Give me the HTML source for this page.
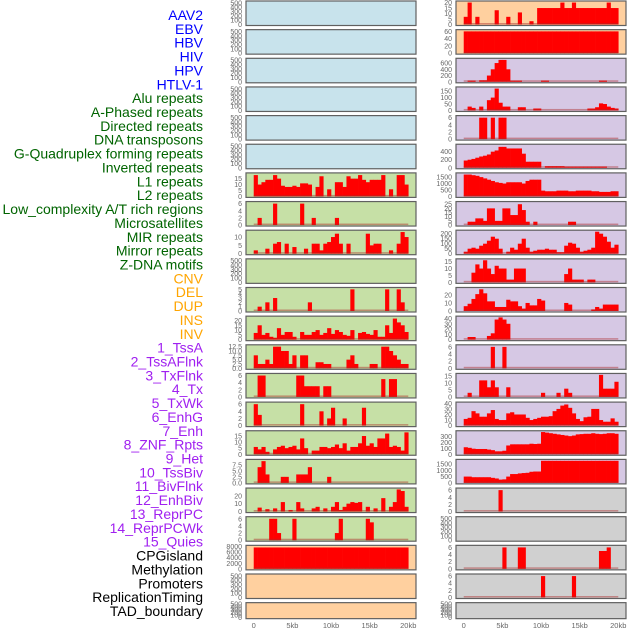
<!DOCTYPE html>
<html><head><meta charset="utf-8">
<style>
body{margin:0;background:#fff;}
svg{display:block;font-family:"Liberation Sans",sans-serif;}
</style></head>
<body>
<svg id="chart" width="630" height="630" viewBox="0 0 630 630" xmlns="http://www.w3.org/2000/svg"></svg>
<script>
const labels=["AAV2","EBV","HBV","HIV","HPV","HTLV-1","Alu repeats","A-Phased repeats","Directed repeats","DNA transposons","G-Quadruplex forming repeats","Inverted repeats","L1 repeats","L2 repeats","Low_complexity A/T rich regions","Microsatellites","MIR repeats","Mirror repeats","Z-DNA motifs","CNV","DEL","DUP","INS","INV","1_TssA","2_TssAFlnk","3_TxFlnk","4_Tx","5_TxWk","6_EnhG","7_Enh","8_ZNF_Rpts","9_Het","10_TssBiv","11_BivFlnk","12_EnhBiv","13_ReprPC","14_ReprPCWk","15_Quies","CPGisland","Methylation","Promoters","ReplicationTiming","TAD_boundary"];
const labelGroups=[0,0,0,0,0,0,1,1,1,1,1,1,1,1,1,1,1,1,1,2,2,2,2,2,3,3,3,3,3,3,3,3,3,3,3,3,3,3,3,4,4,4,4,4];
const xTickLabels=["0","5kb","10kb","15kb","20kb"];
const xTickValues=[0,5,10,15,20];
function sparse(n,obj){const a=new Array(n).fill(0);for(const k in obj)a[+k]=obj[k];return a;}
// left column series (40 bins of 0.5kb)
const L1rep=[18,10,12,14,14,18,15,9,8,8,9,8,11,11,10,0,8,17,0,6,0,12,12,8,17,15,15,18,14,12,14,14,14,18,0,6,0,18,18,10];
const L2rep=sparse(40,{1:2,5:6,12:6,15:2,21:2});
const lowComp=[2,0,0,3,0,6,7,0,6,0,4,0,0,3,0,6,6,2,6,7,10,12,6,0,6,0,0,0,0,12,5,6,6,0,0,2,0,6,13,10];
const mirL=sparse(40,{1:1,3:2,5:3,14:2,25:5,34:5,37:5,38:2});
const mirrorL=[7,15,5,7,3,2,12,5,8,8,3,0,8,5,5,8,10,5,7,12,6,10,8,5,4,10,0,7,8,6,5,10,3,3,15,7,22,18,15,8];
const zdnaL=[7.5,2.5,2.5,5,2.5,12.5,12.5,10,10,2.5,7.5,0,7.5,7.5,0,0,3.5,3.5,2.5,2.5,0,0,0,0,5,7.5,2.5,0,0,0,2.5,2.5,0,12.5,12.5,10,7.5,5,2.5,2.5];
const tssaflnkL=sparse(40,{1:6,2:6,11:6,12:6,13:3,14:3,15:3,16:3,18:3,19:3,33:5,35:5,36:5});
const txflnkL=sparse(40,{0:6,1:3,12:6,17:4,19:2,20:5,23:2,28:5});
const txL=[6,4,6,2,0,4,6,7,5,6,7,4,13,5,0,3,3,6,6,5,6,8,5,9,3,6,6,9,15,7,9,6,13,13,17,6,7,6,3,18];
const hetL=sparse(40,{1:6.5,2:9,3:3.5,7:2.5,8:2.5,11:3.5,12:3.5,13:3.5,14:6.5,19:2.5});
const enhbivL=[0,5,0,3,0,4,0,12,0,2,0,12,4,0,0,4,6,0,4,0,6,12,2,6,10,12,11,12,0,6,0,4,0,17,0,6,12,28,26,6];
const reprpcL=sparse(40,{4:6,5:6,6:2,10:6,21:2,22:6,29:6,30:5});
const cpgL=new Array(40).fill(7700);
// right column series
const aav2R=sparse(40,{0:7,1:20,3:7,8:13,11:7,14:11,17:3,19:15,20:15,21:15,22:15,23:15,24:15,25:20,26:15,27:15,28:20,29:15,30:15,31:15,32:15,33:15,34:15,35:15,36:15,37:20,38:15,39:15});
const ebvR=new Array(40).fill(60);
const hbvR=sparse(40,{1:40,2:40,4:50,5:50,6:200,7:400,8:600,9:700,10:700,11:400,12:40,13:40,14:40,20:40,21:40,35:40,36:40});
const hivR=sparse(40,{1:30,2:20,4:30,6:80,7:100,8:170,9:60,10:30,11:30,14:25,15:25,18:15,19:15,32:15,33:15,34:25,35:55,36:50,37:30,38:20,39:15});
const hpvR=sparse(40,{4:6,5:6,7:6,9:6,10:6});
const htlvR=[180,200,220,250,280,300,330,400,430,520,520,480,480,480,480,350,150,150,150,150,0,40,40,40,40,40,30,30,30,30,30,30,30,30,30,30,30,0,0,0];
const aluR=[1700,1700,1650,1600,1500,1400,1300,1200,1100,1050,1000,1100,1100,1100,1100,1000,1200,1300,1300,1300,450,400,400,400,450,450,450,400,400,450,450,450,450,400,400,350,350,350,400,400];
const aphR=sparse(40,{1:4,2:4,3:8,4:8,5:5,6:20,7:20,8:5,9:5,10:20,11:20,12:12,13:12,14:25,15:18,16:4,18:4,27:4,28:4});
const dirR=[20,50,60,50,80,100,130,170,150,50,0,20,60,40,100,150,60,20,30,40,40,50,40,40,15,15,80,110,100,60,20,30,40,60,220,200,170,120,60,90];
const dnaR=sparse(40,{2:7,3:13,4:10,5:16,6:10,7:6,8:12,9:10,10:10,11:2,12:2,13:10,14:10,15:10,26:6,27:10,28:2,29:2,30:2,32:2,33:2});
const gquadR=sparse(40,{0:6,1:9,2:15,3:21,4:27,5:22,6:12,7:12,8:5,9:5,10:5,11:14,12:12,13:12,14:6,15:3,16:10,17:7,18:7,19:15,20:13,26:10,27:8,33:2,34:5,35:3,36:8,37:8,38:8,39:8});
const invR=sparse(40,{1:5,2:5,6:7,7:12,8:38,9:42,10:38,11:30});
const l1R=sparse(40,{7:6,10:6});
const l2R=sparse(40,{1:3,4:12,5:12,6:7,7:12,8:7,11:7,20:3,24:3,26:6,27:3,35:16,36:6,37:6,38:6,39:11});
const lowR=[12,14,26,22,16,16,22,28,12,10,10,22,24,20,20,20,14,10,12,14,16,16,17,26,30,36,38,32,22,12,8,15,16,30,30,10,7,7,13,7];
const microR=[120,110,95,90,90,90,80,70,50,50,60,150,170,170,170,170,170,180,175,180,380,370,360,350,340,330,320,310,320,340,345,350,350,360,350,345,350,360,360,350];
const mirR=[500,500,450,450,450,450,450,400,350,260,280,500,700,700,750,780,800,880,900,900,1750,1750,1750,1750,1750,1750,1750,1750,1750,1750,1750,1750,1750,1750,1750,1750,1750,1750,1750,1750];
const zdnaR=sparse(40,{9:6});
const tssR=sparse(40,{10:6,14:6,15:6,35:5,36:5,37:6});
const txR=sparse(40,{20:6,28:6});
const emptyTicks=[0,100,200,300,400,500];
const BLUE="#c8e3ec",GREEN="#c6e0a6",PEACH="#ffd09f",LAV="#d6c8e4",GRAY="#d0d0d0";
// [series, yMax, ticks, bg]
const leftPanels=[
[null,520,emptyTicks,BLUE],[null,520,emptyTicks,BLUE],[null,520,emptyTicks,BLUE],[null,520,emptyTicks,BLUE],[null,520,emptyTicks,BLUE],[null,520,emptyTicks,BLUE],
[L1rep,19,[0,5,10,15],GREEN],[L2rep,6.3,[0,2,4,6],GREEN],[lowComp,13.5,[0,5,10],GREEN],[null,520,emptyTicks,GREEN],
[mirL,5.2,[0,1,2,3,4,5],GREEN],[mirrorL,23.5,[0,5,10,15,20],GREEN],[zdnaL,13,[0,2.5,5,7.5,10,12.5],GREEN],
[tssaflnkL,6.3,[0,2,4,6],GREEN],[txflnkL,6.3,[0,2,4,6],GREEN],[txL,18.5,[0,5,10,15],GREEN],[hetL,9.3,[0,2.5,5,7.5],GREEN],
[enhbivL,28.5,[0,10,20],GREEN],[reprpcL,6.3,[0,2,4,6],GREEN],[cpgL,8100,[0,2000,4000,6000,8000],PEACH],
[null,520,emptyTicks,PEACH],[null,520,emptyTicks,PEACH]];
const rightPanels=[
[aav2R,20.5,[0,5,10,15,20],PEACH],[ebvR,62,[0,20,40,60],PEACH],[hbvR,720,[0,200,400,600],LAV],[hivR,175,[0,50,100,150],LAV],
[hpvR,6.3,[0,2,4,6],LAV],[htlvR,560,[0,200,400],LAV],[aluR,1750,[0,500,1000,1500],LAV],[aphR,27,[0,5,10,15,20,25],LAV],
[dirR,225,[0,50,100,150,200],LAV],[dnaR,16.3,[0,5,10,15],LAV],[gquadR,28,[0,10,20],LAV],[invR,42.5,[0,10,20,30,40],LAV],
[l1R,6.3,[0,2,4,6],LAV],[l2R,16.3,[0,5,10,15],LAV],[lowR,40.5,[0,10,20,30,40],LAV],[microR,385,[0,100,200,300],LAV],
[mirR,1780,[0,500,1000,1500],LAV],[zdnaR,6.3,[0,2,4,6],GRAY],[null,520,emptyTicks,GRAY],[tssR,6.3,[0,2,4,6],GRAY],
[txR,6.3,[0,2,4,6],GRAY],[null,520,emptyTicks,GRAY]];
const NS="http://www.w3.org/2000/svg";
const svg=document.getElementById("chart");
function mk(tag,attrs,parent){const e=document.createElementNS(NS,tag);for(const k in attrs)e.setAttribute(k,attrs[k]);(parent||svg).appendChild(e);return e;}
const groupColors=["#0000ff","#006400","#ffa500","#a020f0","#000000"];
labels.forEach((t,i)=>{
  const e=mk("text",{x:203,y:20+i*13.86,"text-anchor":"end","font-size":"14",fill:groupColors[labelGroups[i]]});
  e.textContent=t;
  
  
});
function rowTop(r){return 1+r*28.65;}
function rowH(r){return r===21?16:24.5;}
function drawPanel(p,r,x0,col){
  const [series,ymax,ticks,bg]=p;
  const top=rowTop(r),h=rowH(r),w=170;
  const g=mk("g",{});
  
  
  const bgR=mk("rect",{x:x0,y:top,width:w,height:h,fill:bg,stroke:"#606060","stroke-width":1.2},g);
  
  
  const xs=v=>x0+(v+1)*w/22;
  const ys=v=>top+h-1-(v/ymax)*(h-2);
  ticks.forEach(t=>{
    const e=mk("text",{x:x0-4,y:ys(t)+2.5,"text-anchor":"end","font-size":"7",fill:"#666"},g);
    e.textContent=String(t%1===0?t:t.toFixed(1)).replace(/^(\d+)$/,(m)=>ymax<14&&ticks.some(q=>q%1)?(+m).toFixed(1):m);
    
    
  });
  if(series){
    const bw=20/series.length;
    series.forEach((v,i)=>{
      if(v<=0)return;
      const b=mk("rect",{x:xs(i*bw),y:ys(v),width:xs((i+1)*bw)-xs(i*bw)+0.3,height:ys(0)-ys(v),fill:"#ff0000"},g);
      
      
    });
    const base=mk("rect",{x:xs(0),y:ys(0)-1.5,width:xs(20)-xs(0),height:1.5,fill:"rgba(170,40,40,0.45)"},g);
    
    
  }
}
leftPanels.forEach((p,r)=>drawPanel(p,r,246,'left'));
rightPanels.forEach((p,r)=>drawPanel(p,r,456,'right'));
[246,456].forEach(x0=>{
  xTickValues.forEach((v,i)=>{
    const e=mk("text",{x:x0+(v+1)*170/22,y:628,"text-anchor":"middle","font-size":"7.5",fill:"#666"});
    e.textContent=xTickLabels[i];
    
    
  });
});
</script>
</body></html>
